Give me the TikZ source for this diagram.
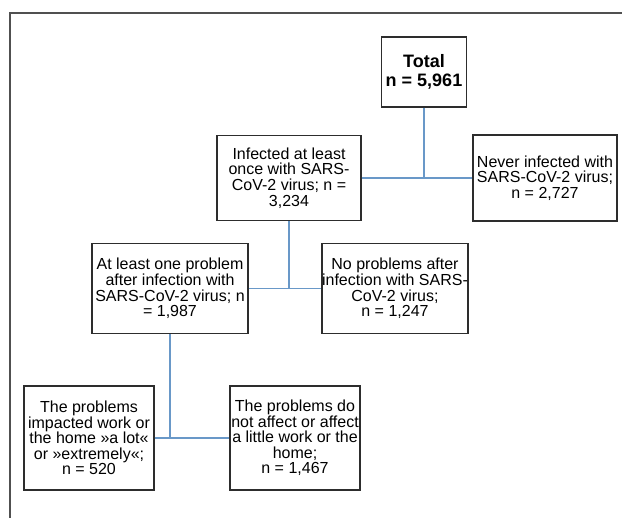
\documentclass[tikz,border=0pt]{standalone}
\usepackage{fontspec}
\setmainfont{Liberation Sans}
\definecolor{boxline}{RGB}{45,45,45}
\definecolor{frameline}{RGB}{80,80,80}
\definecolor{conn}{RGB}{105,152,200}
\begin{document}
\begin{tikzpicture}[x=1pt,y=-1pt,
  box/.style={draw=boxline,line width=1.2pt,fill=white,align=center,inner sep=0pt,
    font=\fontsize{16}{15.6}\selectfont},
  link/.style={draw=conn,line width=1.3pt}]
\useasboundingbox (0,0) rectangle (622,518);
\draw[frameline,line width=1.3pt] (10,518) -- (10,13) -- (622,13);

\node[box,minimum width=85pt,minimum height=70pt,font=\fontsize{18}{19.5}\selectfont\bfseries] (total) at (424,72) {Total\\n = 5,961};
\node[box,minimum width=144pt,minimum height=85pt] (inf) at (289,178) {Infected at least\\once with SARS-\\CoV-2 virus; n =\\3,234};
\node[box,minimum width=144pt,minimum height=86pt] (never) at (545,178) {Never infected with\\SARS-CoV-2 virus;\\n = 2,727};
\node[box,minimum width=156pt,minimum height=90pt] (atleast) at (170,288.5) {At least one problem\\after infection with\\SARS-CoV-2 virus; n\\= 1,987};
\node[box,minimum width=144pt,minimum height=90pt] (nop) at (395,288.5) {No problems after\\infection with SARS-\\CoV-2 virus;\\n = 1,247};
\node[box,minimum width=130pt,minimum height=104pt] (imp) at (89,438) {The problems\\impacted work or\\the home »a lot«\\or »extremely«;\\n = 520};
\node[box,minimum width=130pt,minimum height=104pt] (notaff) at (295,438) {The problems do\\not affect or affect\\a little work or the\\home;\\n = 1,467};

\draw[link] (total.south) -- (total.south |- inf.east);
\draw[link] (inf.east) -- (never.west);
\draw[link] (inf.south) -- (inf.south |- atleast.east);
\draw[link] (atleast.east) -- (nop.west);
\draw[link] (atleast.south) -- (atleast.south |- imp.east);
\draw[link] (imp.east) -- (notaff.west);
\end{tikzpicture}
\end{document}
